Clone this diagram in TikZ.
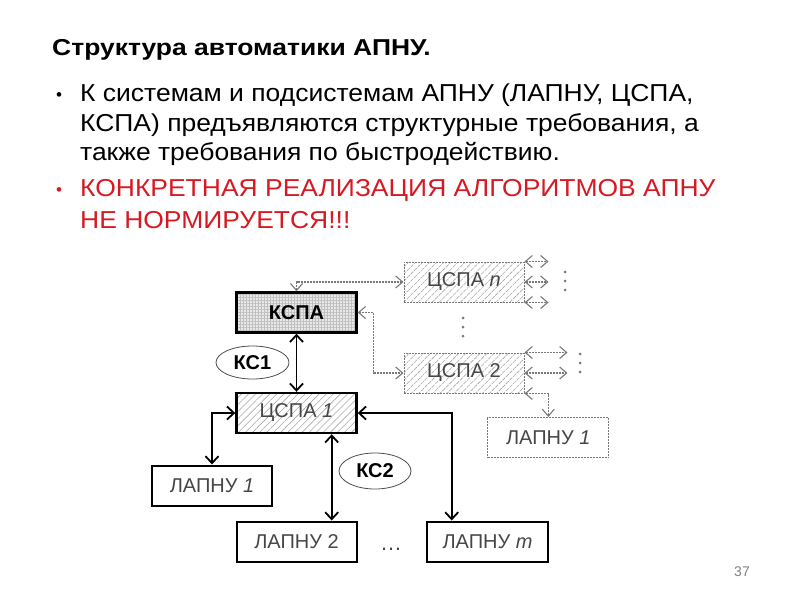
\documentclass[tikz,border=0pt]{standalone}
\usepackage{fontspec}
\setmainfont{Liberation Sans}
\newfontfamily\bodyfont[FakeStretch=1.08]{Liberation Sans}
\newfontfamily\titlefont[FakeStretch=1.15]{Liberation Sans}
\usetikzlibrary{arrows.meta,patterns.meta,shapes.geometric}
\definecolor{redtxt}{RGB}{215,25,35}
\definecolor{boxtxt}{RGB}{70,70,70}
\definecolor{dashc}{RGB}{120,120,120}
\begin{document}
\begin{tikzpicture}[x=1pt,y=-1pt,
  bodytxt/.style={anchor=base west, font=\bodyfont\fontsize{24.5}{28}\selectfont, inner sep=0},
  bul/.style={anchor=base west, font=\fontsize{17}{20}\selectfont, inner sep=0},
  sbox/.style={draw=black, line width=2pt, minimum width=120pt, minimum height=40pt, inner sep=0, text=boxtxt, font=\fontsize{20}{22}\selectfont},
  gbox/.style={draw=dashc, line width=1pt, dash pattern=on 2pt off 1pt, minimum width=120pt, minimum height=40pt, inner sep=0, text=boxtxt, font=\fontsize{20}{22}\selectfont},
  hatchfill/.style={pattern={Lines[angle=45,distance=5pt,line width=0.6pt]}, pattern color=gray!70},
  gridfill/.style={preaction={fill=gray!18}, pattern={Hatch[angle=0,distance=3pt,line width=0.3pt]}, pattern color=gray!50},
  arr/.style={{Straight Barb[length=7pt,width=13pt]}-{Straight Barb[length=7pt,width=13pt]}, line width=1.8pt, draw=black},
  garr/.style={{Straight Barb[length=7pt,width=12pt]}-{Straight Barb[length=7pt,width=12pt]}, line width=1.1pt, draw=dashc, dash pattern=on 2pt off 1pt},
  kc/.style={ellipse, draw=black!70, line width=0.8pt, inner sep=0, font=\fontsize{20}{22}\selectfont\bfseries},
  vdot/.style={circle, fill=dashc, inner sep=0, minimum size=3pt}
]
\useasboundingbox (0,0) rectangle (800,600);

% text
\node[anchor=base west, font=\titlefont\fontsize{23}{26}\selectfont\bfseries, inner sep=0] (title) at (52,55) {Структура автоматики АПНУ.};
\node[bul] (b1) at (56,100) {•};
\node[bodytxt] (l1) at (80,101) {К системам и подсистемам АПНУ (ЛАПНУ, ЦСПА,};
\node[bodytxt] (l2) at (80,131) {КСПА) предъявляются структурные требования, а};
\node[bodytxt] (l3) at (80,160) {также требования по быстродействию.};
\node[bul, text=redtxt] (b2) at (56,195) {•};
\node[bodytxt, text=redtxt] (l4) at (80,196) {КОНКРЕТНАЯ РЕАЛИЗАЦИЯ АЛГОРИТМОВ АПНУ};
\node[bodytxt, text=redtxt] (l5) at (80,228) {НЕ НОРМИРУЕТСЯ!!!};

% boxes
\node[sbox, gridfill, line width=2.4pt, text=black, font=\fontsize{20}{22}\selectfont\bfseries] (kspa) at (296.5,312.5) {КСПА};
\node[sbox, hatchfill, line width=2.4pt] (cspa1) at (296.5,413) {ЦСПА \textit{1}};
\node[sbox] (lap1) at (212,485.5) {ЛАПНУ \textit{1}};
\node[sbox] (lap2) at (296.5,541.5) {ЛАПНУ 2};
\node[sbox, minimum width=121.5pt] (lapm) at (487.5,541.5) {ЛАПНУ \textit{m}};
\node[gbox, hatchfill] (cspan) at (464,282) {ЦСПА \textit{n}};
\node[gbox, hatchfill] (cspa2) at (464,373) {ЦСПА 2};
\node[gbox, minimum width=121pt] (lapr) at (548.3,437.5) {ЛАПНУ \textit{1}};

\node[kc, minimum width=73pt, minimum height=33pt] (kc1) at (252.5,362.5) {КС1};
\node[kc, minimum width=72pt, minimum height=36pt] (kc2) at (375,471) {КС2};

\node[anchor=base, font=\fontsize{22}{24}\selectfont, text=boxtxt, inner sep=0] (ell) at (391,550) {…};
\node[font=\fontsize{14}{16}\selectfont, text=gray, inner sep=0] (pg) at (742,572) {37};

% solid connectors
\draw[arr] (kspa.south) -- (cspa1.north);
\draw[arr] (cspa1.west) -| (lap1.north);
\draw[arr] (cspa1.east) -| ([xshift=-35.8pt]lapm.north);
\draw[arr] ([xshift=35.2pt]cspa1.south) -- ([xshift=35.2pt]lap2.north);

% dashed connectors
\draw[garr] (kspa.north) |- (cspan.west);
\draw[garr] (kspa.east) -- ++(16,0) |- (cspa2.west);
\coordinate (n1) at ([xshift=24pt]cspan.north east);
\coordinate (n2) at ([xshift=24pt]cspan.east);
\coordinate (n3) at ([xshift=24pt]cspan.south east);
\draw[garr] (cspan.north east) -- (n1);
\draw[garr] (cspan.east) -- (n2);
\draw[garr] (cspan.south east) -- (n3);
\coordinate (m1) at ([xshift=43pt]cspa2.north east);
\coordinate (m2) at ([xshift=43pt]cspa2.east);
\draw[garr] (cspa2.north east) -- (m1);
\draw[garr] (cspa2.east) -- (m2);
\draw[garr] (cspa2.south east) -| (lapr.north);

% vertical dots
\foreach \yy [count=\i] in {272,281,290} \node[vdot] (dn\i) at (565,\yy) {};
\foreach \yy [count=\i] in {354,363,372} \node[vdot] (d2\i) at (580,\yy) {};
\foreach \yy [count=\i] in {318,327,336} \node[vdot] (dm\i) at (463,\yy) {};
\end{tikzpicture}
\end{document}
